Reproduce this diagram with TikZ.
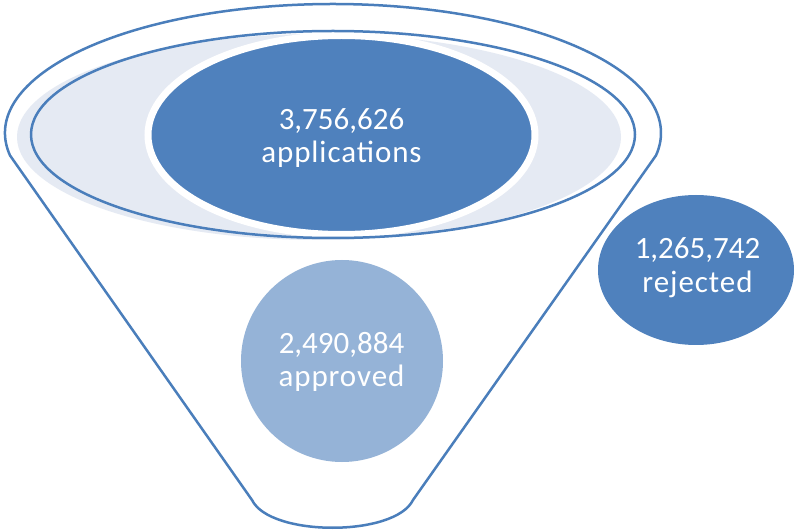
\documentclass[tikz,border=0pt]{standalone}
\usepackage{fontspec}
\setmainfont{Carlito}
\newfontfamily\wordfont[LetterSpace=3]{Carlito}
\definecolor{blueA}{HTML}{4F81BD}
\definecolor{blueLine}{HTML}{4A7EBB}
\definecolor{blueLight}{HTML}{95B3D7}
\definecolor{paleFill}{HTML}{E5EAF3}
\tikzset{
  outline/.style={draw=blueLine, line width=2.5pt, line join=round},
  numtext/.style={text=white, align=center, inner sep=0pt,
    font=\fontsize{31}{33.5}\selectfont},
}
\begin{document}
\begin{tikzpicture}[x=1pt,y=1pt]
\useasboundingbox (0,0) rectangle (796,531);

% funnel body: upper rim arc, sides and rounded spout
\draw[outline, fill=white]
  (333,398) ++(190:328 and 129) coordinate (rimL)
  arc[start angle=190, end angle=-10, x radius=328, y radius=129]
  coordinate (rimR)
  -- (413,31) coordinate (spoutR)
  .. controls (395,-6) and (270,-6) .. (252,31) coordinate (spoutL)
  -- cycle;

% pale inner surface of the rim
\fill[paleFill] (319,394) ellipse[x radius=302, y radius=103];

% total applications
\coordinate (appsCentre) at (341.5,396);
\path[fill=blueA, draw=white, line width=7pt]
  (appsCentre) ellipse[x radius=193.5, y radius=99.5];
\node[numtext] (apps) at (341.5,393.2) {3,756,626\\{\wordfont applications}};

% inner rim line
\draw[outline] (333,396.5) ellipse[x radius=302, y radius=103.5];

% approved outflow
\fill[blueLight] (342,170) circle[radius=101];
\node[numtext] (approved) at (341.5,169.2) {2,490,884\\{\wordfont approved}};

% rejected, outside the funnel
\fill[blueA] (696,261) ellipse[x radius=98, y radius=75];
\node[numtext] (rejected) at (697.5,263.2) {1,265,742\\{\wordfont rejected}};
\end{tikzpicture}
\end{document}
